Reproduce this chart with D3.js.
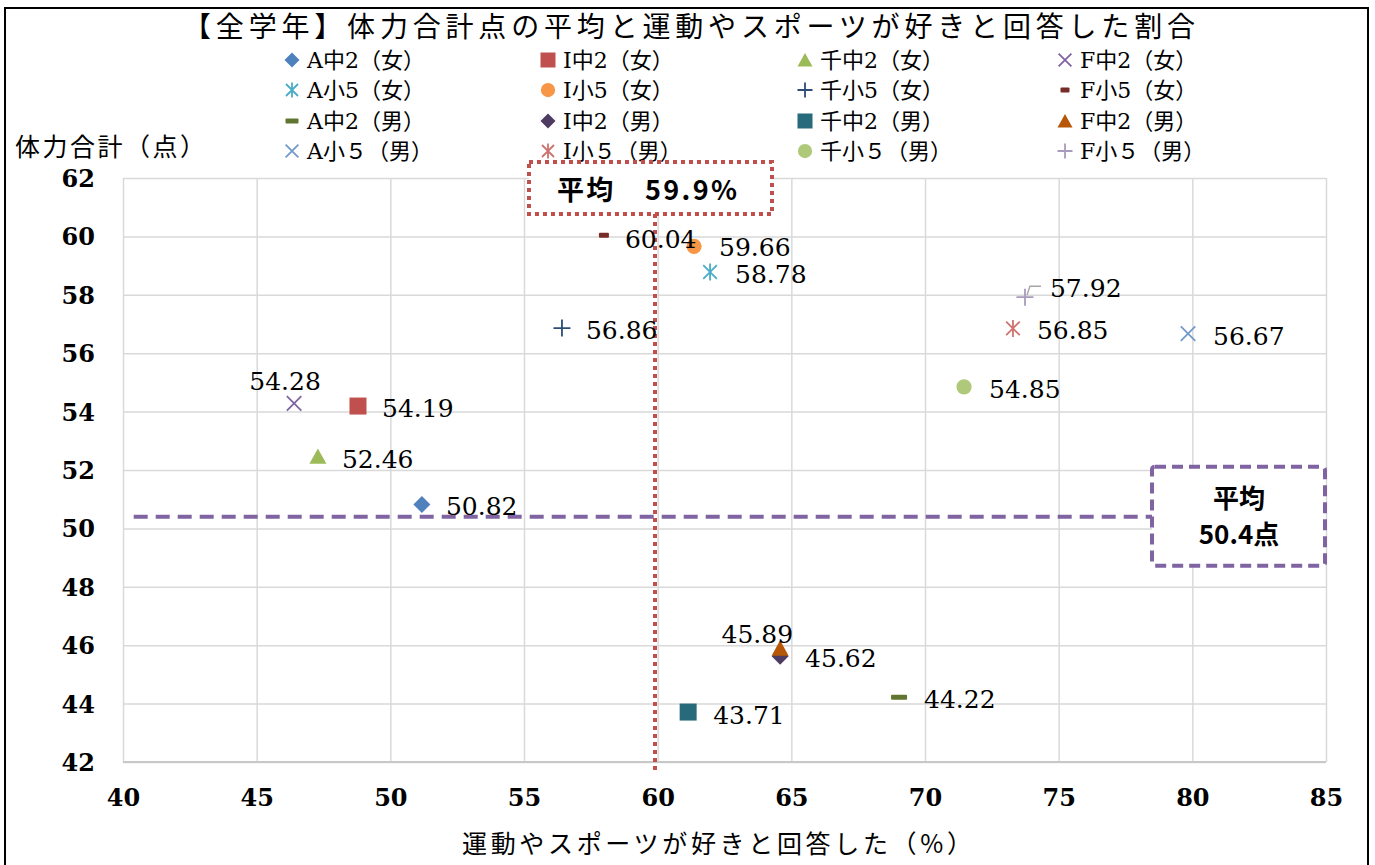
<!DOCTYPE html>
<html>
<head>
<meta charset="utf-8">
<script src="https://cdn.jsdelivr.net/npm/d3@7"></script>
<style>
  html, body { margin: 0; padding: 0; background: #fff; }
  svg { display: block; }
</style>
</head>
<body>
<div id="chart"></div>
<script>
// ---------- DATA ----------
const titleText = "【全学年】体力合計点の平均と運動やスポーツが好きと回答した割合";
const xAxisTitle = "運動やスポーツが好きと回答した（%）";
const yAxisTitle = "体力合計（点）";
const seriesNames = [
  "A中2（女）", "I中2（女）", "千中2（女）", "F中2（女）",
  "A小5（女）", "I小5（女）", "千小5（女）", "F小5（女）",
  "A中2（男）", "I中2（男）", "千中2（男）", "F中2（男）",
  "A小５（男）", "I小５（男）", "千小５（男）", "F小５（男）"
];
const xValues = [51.18, 48.79, 47.29, 46.40, 61.96, 61.36, 56.42, 57.99,
                 69.03, 64.58, 61.14, 64.58, 79.84, 73.29, 71.46, 73.74];
const yValues = [50.82, 54.19, 52.46, 54.28, 58.78, 59.66, 56.86, 60.04,
                 44.22, 45.62, 43.71, 45.89, 56.67, 56.85, 54.85, 57.92];
const xTicks = [40, 45, 50, 55, 60, 65, 70, 75, 80, 85];
const yTicks = [42, 44, 46, 48, 50, 52, 54, 56, 58, 60, 62];
const avgPercent = 59.9;
const avgScore = 50.4;

// ---------- STYLES ----------
const markerShapes = ["diamond", "square", "triangle", "x",
                      "asterisk", "circle", "plus", "dash",
                      "dash", "diamond", "square", "triangle",
                      "x", "asterisk", "circle", "plus"];
const markerColors = ["#4F81BD", "#C0504D", "#9BBB59", "#8064A2",
                      "#4BACC6", "#F79646", "#2C4D75", "#772C2A",
                      "#5F7530", "#4D3B62", "#276A7C", "#B65708",
                      "#729ACA", "#CD7371", "#AFC97A", "#A99BBD"];
// label placement: [dx, dy, anchor]
const labelPlace = [
  [24, 2, "start"], [24, 2, "start"], [24, 2, "start"], [-9, -22, "middle"],
  [25, 2, "start"], [25, 1, "start"], [24, 2, "start"], [21, 4, "start"],
  [25, 2, "start"], [25, 2, "start"], [25, 3, "start"], [13, -14, "end"],
  [25, 2, "start"], [24, 2, "start"], [25, 2, "start"], [25, -9, "start"]
];

const W = 1375, H = 865;
const svg = d3.select("#chart").append("svg").attr("width", W).attr("height", H);

const plot = {left: 123, right: 1326, top: 178, bottom: 762};
const x = d3.scaleLinear().domain([40, 85]).range([plot.left, plot.right]);
const y = d3.scaleLinear().domain([42, 62]).range([plot.bottom, plot.top]);

const serif = "'DejaVu Serif', 'Noto Sans CJK JP', serif";
const cjk = "'Noto Sans CJK JP', sans-serif";

// outer frame
svg.append("rect").attr("x", 5).attr("y", 8).attr("width", 1363).attr("height", 880)
  .attr("fill", "none").attr("stroke", "#000").attr("stroke-width", 2);

// grid via axes
const gridY = svg.append("g").attr("transform", `translate(${plot.left},0)`)
  .call(d3.axisLeft(y).tickValues(yTicks).tickSize(-(plot.right - plot.left)).tickFormat(d => d).tickPadding(28));
gridY.select(".domain").remove();
gridY.selectAll("line").attr("stroke", "#d9d9d9").attr("stroke-width", 1.5);
gridY.selectAll("text").attr("font-family", serif).attr("font-weight", "bold")
  .attr("font-size", 24).attr("fill", "#000").attr("dy", "0.35em");

const gridX = svg.append("g").attr("transform", `translate(0,${plot.bottom})`)
  .call(d3.axisBottom(x).tickValues(xTicks).tickSize(-(plot.bottom - plot.top)).tickFormat(d => d).tickPadding(27));
gridX.select(".domain").remove();
gridX.selectAll("line").attr("stroke", "#d9d9d9").attr("stroke-width", 1.5);
gridX.selectAll("text").attr("font-family", serif).attr("font-weight", "bold")
  .attr("font-size", 24).attr("fill", "#000");

// bottom axis line
svg.append("line").attr("x1", plot.left).attr("x2", plot.right)
  .attr("y1", y(42)).attr("y2", y(42)).attr("stroke", "#c8c8c8").attr("stroke-width", 2);

// titles
svg.append("text").attr("x", 183).attr("y", 37).attr("font-family", cjk)
  .attr("font-size", 28).attr("textLength", 1012).attr("lengthAdjust", "spacing")
  .text(titleText);
svg.append("text").attr("x", 15).attr("y", 156).attr("font-family", cjk)
  .attr("font-size", 25).attr("textLength", 190).attr("lengthAdjust", "spacing")
  .text(yAxisTitle);
svg.append("text").attr("x", 462).attr("y", 853).attr("font-family", cjk)
  .attr("font-size", 25).attr("textLength", 510).attr("lengthAdjust", "spacing")
  .text(xAxisTitle);

// marker drawing
function drawMarker(g, shape, color, s) {
  const r = s / 2;
  if (shape === "diamond") {
    g.append("path").attr("d", `M0,${-r}L${r},0L0,${r}L${-r},0Z`).attr("fill", color);
  } else if (shape === "square") {
    g.append("rect").attr("x", -r).attr("y", -r).attr("width", s).attr("height", s).attr("fill", color);
  } else if (shape === "triangle") {
    g.append("path").attr("d", `M0,${-r * 0.95}L${r},${r * 0.85}L${-r},${r * 0.85}Z`).attr("fill", color);
  } else if (shape === "circle") {
    g.append("circle").attr("r", r * 0.95).attr("fill", color);
  } else if (shape === "x") {
    const q = r * 0.85;
    g.append("path").attr("d", `M${-q},${-q}L${q},${q}M${-q},${q}L${q},${-q}`)
      .attr("stroke", color).attr("stroke-width", 1.8).attr("fill", "none");
  } else if (shape === "asterisk") {
    const q = r * 0.8;
    g.append("path").attr("d", `M${-q},${-q}L${q},${q}M${-q},${q}L${q},${-q}M0,${-r}L0,${r}`)
      .attr("stroke", color).attr("stroke-width", 1.8).attr("fill", "none");
  } else if (shape === "plus") {
    g.append("path").attr("d", `M${-r},0L${r},0M0,${-r}L0,${r}`)
      .attr("stroke", color).attr("stroke-width", 1.8).attr("fill", "none");
  } else if (shape === "dash") {
    g.append("rect").attr("x", -r).attr("y", -2.5).attr("width", s).attr("height", 5)
      .attr("rx", 1).attr("fill", color);
  }
}

// legend
const legendColX = [292, 548, 805, 1065];
const legendRowY = [60, 90, 121, 151];
seriesNames.forEach((name, i) => {
  const col = i % 4, row = Math.floor(i / 4);
  const g = svg.append("g").attr("transform", `translate(${legendColX[col]},${legendRowY[row]})`);
  const ms = markerShapes[i] === "dash" ? (i === 7 ? 9 : 13) : 15;
  drawMarker(g, markerShapes[i], markerColors[i], ms);
  g.append("text").attr("x", 15).attr("y", 0).attr("dy", "0.36em")
    .attr("font-family", serif).attr("font-size", 22).attr("fill", "#000").text(name);
});

// average lines and boxes
const avgX = x(avgPercent);
const avgY = y(avgScore);
// red dotted vertical
svg.append("line").attr("x1", avgX).attr("x2", avgX).attr("y1", 214).attr("y2", plot.bottom + 10)
  .attr("stroke", "#C0504D").attr("stroke-width", 4).attr("stroke-dasharray", "4 4");
svg.append("rect").attr("x", avgX - 126).attr("y", 162).attr("width", 243).attr("height", 52)
  .attr("fill", "#fff").attr("stroke", "#C0504D").attr("stroke-width", 4).attr("stroke-dasharray", "4 4");
svg.append("text").attr("x", avgX - 98).attr("y", 190).attr("dy", "0.36em")
  .attr("font-family", cjk).attr("font-weight", "bold").attr("font-size", 27)
  .attr("textLength", 180).attr("lengthAdjust", "spacing")
  .text("平均　" + avgPercent + "%");

// purple dashed horizontal
const boxL = 1152;
svg.append("line").attr("x1", x(40.4)).attr("x2", boxL).attr("y1", avgY).attr("y2", avgY)
  .attr("stroke", "#8064A2").attr("stroke-width", 4).attr("stroke-dasharray", "14 8");
svg.append("rect").attr("x", boxL).attr("y", avgY - 50).attr("width", 173).attr("height", 99)
  .attr("rx", 3).attr("fill", "#fff").attr("stroke", "#8064A2").attr("stroke-width", 4)
  .attr("stroke-dasharray", "11 6");
svg.append("text").attr("x", boxL + 87).attr("y", avgY - 18).attr("dy", "0.36em")
  .attr("text-anchor", "middle").attr("font-family", cjk).attr("font-weight", "bold")
  .attr("font-size", 26).text("平均");
svg.append("text").attr("x", boxL + 87).attr("y", avgY + 18).attr("dy", "0.36em")
  .attr("text-anchor", "middle").attr("font-family", cjk).attr("font-weight", "bold")
  .attr("font-size", 26).text(avgScore + "点");

// leader line for F小5(男)
{
  const px = x(xValues[15]), py = y(yValues[15]);
  svg.append("path").attr("d", `M${px + 2},${py - 2}L${px + 5},${py - 11}L${px + 16},${py - 11}`)
    .attr("fill", "none").attr("stroke", "#a6a6a6").attr("stroke-width", 1.5);
}

// points
const pts = svg.append("g");
seriesNames.forEach((name, i) => {
  const g = pts.append("g").attr("transform", `translate(${x(xValues[i])},${y(yValues[i])})`);
  let s = 17;
  if (markerShapes[i] === "dash") s = (i === 7 ? 10 : 16);
  if (markerShapes[i] === "circle") s = 16;
  drawMarker(g, markerShapes[i], markerColors[i], s);
});

// data labels
const lbl = svg.append("g");
seriesNames.forEach((name, i) => {
  const [dx, dy, anchor] = labelPlace[i];
  lbl.append("text").attr("x", x(xValues[i]) + dx).attr("y", y(yValues[i]) + dy)
    .attr("dy", "0.36em").attr("text-anchor", anchor)
    .attr("font-family", serif).attr("font-size", 25).attr("fill", "#000")
    .text(yValues[i].toFixed(2));
});
</script>
</body>
</html>
